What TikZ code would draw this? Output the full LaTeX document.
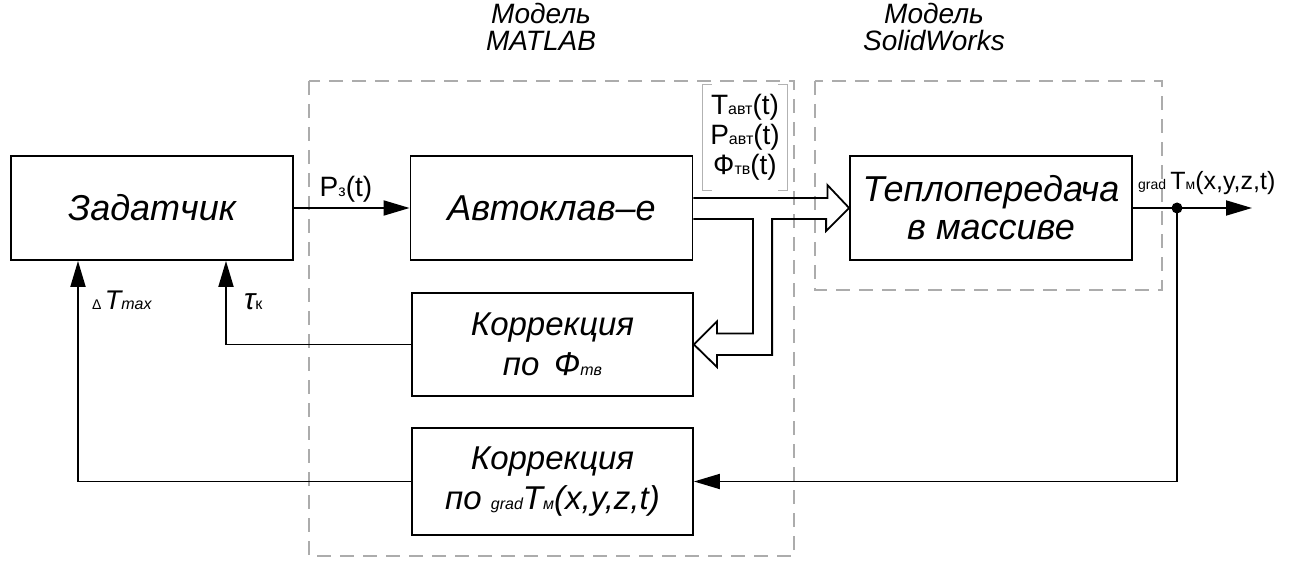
\documentclass[tikz,border=0pt]{standalone}
\usepackage{fontspec}
\setmainfont{Liberation Sans}
\usetikzlibrary{positioning,arrows.meta,calc}

\newcommand{\boxfont}{\fontsize{36}{38}\selectfont\itshape}
\newcommand{\corfont}{\fontsize{33}{40}\selectfont\itshape}
\newcommand{\sigfont}{\fontsize{28}{30}\selectfont}
\newcommand{\lo}[1]{{\fontsize{16}{16}\selectfont #1}}

\begin{document}
\begin{tikzpicture}[x=1pt, y=-1pt,
  blk/.style={draw, line width=1.8pt, align=center, inner sep=0pt, font=\boxfont,
              minimum width=282pt, minimum height=104pt},
  grp/.style={draw=gray!65, line width=1.3pt, dash pattern=on 14pt off 9pt},
  ttl/.style={font=\fontsize{28}{27}\selectfont\itshape, align=center, inner sep=0pt},
  arr/.style={-{Triangle[length=26pt,width=15pt]}, line width=1.8pt},
  ln/.style={line width=1.8pt},
  sig/.style={font=\sigfont, inner sep=0pt}]
\useasboundingbox (0,0) rectangle (1290,561);
% model borders
\draw[grp] (309,81) rectangle (794,556);
\draw[grp] (815,81) rectangle (1162,290);
\node[ttl] (tmat) at (541,27) {Модель\\MATLAB};
\node[ttl] (tsw) at (934,27) {Модель\\SolidWorks};
% blocks
\node[blk] (zad) at (152,208) {Задатчик};
\node[blk] (avt) at (551.5,208) {Автоклав–е};
\node[blk] (tep) at (991,208) {Теплопередача\\в массиве};
\node[blk, font=\corfont, minimum width=281pt, minimum height=103pt] (kor1) at (552.5,344.5) {Коррекция\\по \,Ф\lo{тв}};
\node[blk, font=\corfont, minimum width=281pt, minimum height=107pt] (kor2) at (552.5,481.5) {Коррекция\\по \lo{grad}T\lo{м}(x,y,z,t)};
% forward path
\draw[arr] (zad) -- node[sig, above=5pt, pos=0.45] (pz) {P\lo{з}(t)} (avt);
\node[sig, align=center, minimum width=84pt, minimum height=105pt] (vars) at (745,137.5) {T\lo{авт}(t)\\P\lo{авт}(t)\\Ф\lo{тв}(t)};
\draw[gray!60, line width=1.2pt] ([xshift=9pt]vars.north west) -- (vars.north west) -- (vars.south west) -- ([xshift=9pt]vars.south west);
\draw[gray!60, line width=1.2pt] ([xshift=-9pt]vars.north east) -- (vars.north east) -- (vars.south east) -- ([xshift=-9pt]vars.south east);
\draw[ln] ($(avt.east)+(0,-10)$) -- ++(134,0) -- ++(0,-13) -- (tep.west) -- ++(-23,23) -- ++(0,-12) -- ++(-54,0)
  |- ($(kor1.east)+(23,10.5)$) -- ++(0,12) -- (kor1.east) -- ++(23,-23) -- ++(0,12) -- ++(36,0) |- ($(avt.east)+(0,11)$);
% output and feedback
\coordinate (tap) at (1177,208);
\coordinate (out) at (1252,208);
\draw[arr] (tep.east) -- (out);
\fill (tap) circle (5.5);
\node[sig, font=\fontsize{25}{27}\selectfont, anchor=base west] (gT) at (1138,190) {{\fontsize{14}{14}\selectfont grad}\,T{\fontsize{14}{14}\selectfont м}(x,y,z,t)};
\draw[arr] (tap) |- (kor2.east);
\draw[arr] (kor2.west) -| ([xshift=-74pt]zad.south);
\draw[arr] (kor1.west) -| ([xshift=74pt]zad.south);
\node[inner sep=0pt, anchor=base west] (dT) at (92,309) {{\fontsize{14}{14}\selectfont Δ}\,\,{\fontsize{27}{27}\selectfont\itshape T}{\fontsize{16}{16}\selectfont\itshape max}};
\node[inner sep=0pt, anchor=base west] (tk) at (244,309) {{\fontsize{30}{30}\selectfont\itshape τ}\lo{к}};
\end{tikzpicture}
\end{document}
